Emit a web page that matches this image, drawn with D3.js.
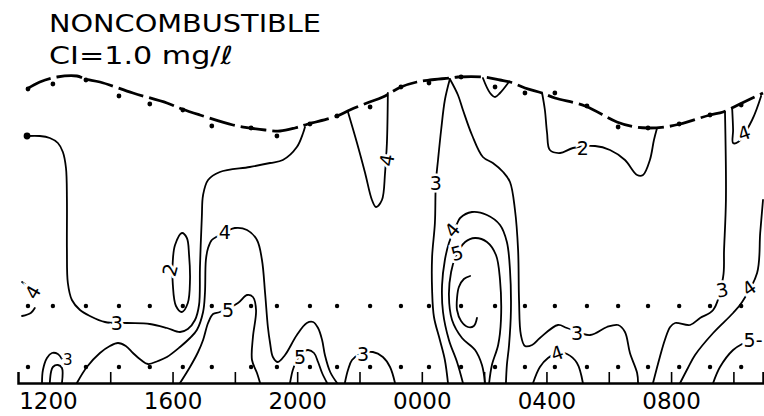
<!DOCTYPE html>
<html>
<head>
<meta charset="utf-8">
<script src="https://cdn.jsdelivr.net/npm/d3@7"></script>
<style>
body { margin: 0; background: #fff; }
svg { display: block; font-family: "DejaVu Sans", sans-serif; }
</style>
</head>
<body>
<svg id="chart" width="764" height="416"></svg>
<script>
// time is in clock hours (values past 24 are the next morning),
// depth is height above the bottom, in feet
const tickHours = [14, 16, 18, 20, 22, 24, 26, 28, 30, 32, 34];
const labelHours = [12, 16, 20, 24, 28, 32];
const labelText = ["1200", "1600", "2000", "0000", "0400", "0800"];

// sampling stations (one every hour)
const sampleHours = [11.36, 12.16, 13.22, 14.28, 15.27, 16.33, 17.26, 18.52, 19.35, 20.41, 21.28, 22.34,
    23.33, 24.23, 25.26, 26.35, 27.31, 28.27, 29.30, 30.30, 31.26, 32.26, 33.25, 34.25];
const surfaceDepth = [29.4, 29.9, 30.3, 28.7, 27.9, 27.3, 25.7, 25.5, 24.7, 25.9, 26.7, 27.6,
    29.6, 30.0, 30.6, 29.6, 29.0, 29.0, 27.7, 25.6, 25.5, 25.9, 26.8, 27.8];
const midDepth = 7.7;
const lowDepth = 1.6;
const lowHours = sampleHours.filter((h, i) => i !== 1);

// water surface
const surface = [[11.33, 29.4], [11.74, 30.1], [12.29, 30.6], [12.93, 30.7], [13.19, 30.4], [13.67, 30.1],
    [14.73, 29.0], [15.82, 28.0], [16.30, 27.4], [16.88, 26.8], [17.94, 25.8], [18.48, 25.5], [18.97, 25.3],
    [19.45, 25.2], [19.93, 25.5], [20.35, 25.9], [21.28, 26.7], [21.69, 27.3], [22.24, 28.0], [22.75, 28.6],
    [23.33, 29.6], [23.84, 30.1], [24.26, 30.3], [24.90, 30.5], [25.16, 30.6], [25.96, 30.6], [26.51, 30.3],
    [26.83, 30.1], [27.31, 29.5], [27.86, 29.0], [28.27, 28.5], [29.24, 27.7], [30.26, 26.1], [30.84, 25.6],
    [31.26, 25.5], [31.80, 25.6], [32.29, 25.9], [33.25, 26.8], [33.67, 27.1], [34.21, 27.9], [34.95, 29.0]];

// isolines of chlorine (mg/l)
const contour3West = [[11.33, 24.7], [11.74, 24.7], [12.06, 24.5], [12.32, 24.0], [12.48, 23.1], [12.58, 21.5],
    [12.61, 18.3], [12.61, 13.3], [12.64, 10.0], [12.77, 8.3], [13.03, 7.3], [13.35, 6.7], [13.83, 6.1],
    [14.54, 6.0], [15.27, 5.9], [15.82, 5.5], [16.24, 5.1], [16.49, 5.4], [16.72, 6.3], [16.85, 7.8],
    [16.88, 11.6], [16.94, 16.6], [16.98, 18.8], [17.14, 20.3], [17.52, 21.1], [18.48, 21.6], [19.13, 22.0],
    [19.54, 22.3], [19.99, 23.6], [20.19, 25.0], [20.25, 25.6]];
const contour2Loop = [[16.30, 15.0], [16.46, 14.5], [16.53, 12.8], [16.56, 10.3], [16.49, 8.0], [16.30, 7.1],
    [16.11, 7.7], [16.01, 9.8], [16.01, 12.3], [16.08, 13.8]];
const contour4West = [[12.93, 0], [13.25, 1.6], [13.67, 3.0], [13.99, 3.7], [14.25, 4.0], [14.50, 3.7],
    [14.73, 3.0], [14.99, 2.3], [15.21, 1.9], [15.53, 2.2], [15.82, 2.6], [16.24, 3.6], [16.56, 4.5],
    [16.78, 5.3], [16.98, 7.1], [17.04, 9.0], [17.07, 12.3], [17.14, 13.5], [17.26, 14.3], [17.46, 14.7],
    [18.00, 15.5], [18.39, 15.3], [18.71, 14.3], [18.87, 12.3], [18.97, 9.0], [19.06, 5.6], [19.13, 4.0],
    [19.22, 2.6], [19.38, 2.1], [19.61, 2.8], [19.99, 4.8], [20.31, 6.0], [20.51, 6.1], [20.67, 5.5],
    [20.80, 4.3], [20.89, 2.8], [21.06, 1.1], [21.28, 0]];
const contour5West = [[16.24, 0], [16.56, 1.6], [16.82, 3.1], [16.98, 4.3], [17.14, 6.0], [17.30, 6.9],
    [17.52, 7.1], [18.10, 8.0], [18.39, 8.8], [18.58, 8.6], [18.68, 7.3], [18.58, 4.6], [18.55, 2.3],
    [18.71, 1.0], [18.81, 0]];
const contour5Small = [[19.77, 0], [19.86, 1.3], [19.99, 2.3], [20.19, 3.1], [20.35, 3.3], [20.54, 3.0],
    [20.67, 2.1], [20.80, 1.0], [20.96, 0]];
const contour3Hump = [[21.53, 0], [21.63, 1.3], [21.76, 2.3], [22.02, 2.9], [22.43, 3.1], [22.75, 2.6],
    [22.98, 1.6], [23.14, 0]];
const contour4Notch = [[21.63, 27.1], [21.92, 24.0], [22.18, 21.0], [22.40, 18.3], [22.53, 17.6],
    [22.72, 18.3], [22.82, 21.0], [22.88, 24.0], [22.91, 29.0]];
const contour3Center = [[24.90, 30.4], [24.74, 28.3], [24.62, 25.3], [24.52, 22.3], [24.45, 20.0],
    [24.42, 16.0], [24.33, 12.6], [24.33, 9.3], [24.39, 6.6], [24.58, 4.3], [24.74, 2.3], [24.84, 0]];
const contour3East = [[24.90, 30.4], [25.16, 28.8], [25.32, 27.3], [25.61, 24.8], [25.96, 22.6], [26.28, 22.0],
    [26.61, 21.1], [26.83, 20.1], [26.99, 17.3], [27.09, 13.3], [27.12, 8.3], [27.18, 4.8], [27.31, 3.7],
    [27.54, 3.8], [27.79, 4.5], [28.37, 5.8], [28.66, 5.5], [29.40, 4.8], [29.94, 5.6], [30.30, 5.8],
    [30.52, 5.1], [30.68, 3.0], [30.91, 1.0], [30.94, 0]];
const contour4Center = [[25.32, 0], [25.13, 2.1], [24.87, 4.3], [24.68, 7.1], [24.65, 9.8], [24.74, 12.3],
    [24.87, 14.0], [25.10, 15.7], [25.23, 16.5], [25.61, 17.1], [26.09, 16.8], [26.51, 15.8], [26.73, 14.1],
    [26.83, 11.3], [26.86, 7.3], [26.80, 3.8], [26.73, 1.8], [26.70, 0]];
const contour5Center = [[26.03, 0], [25.93, 1.8], [25.71, 3.3], [25.29, 4.5], [24.97, 6.3], [24.87, 8.8],
    [24.94, 11.1], [25.07, 12.5], [25.39, 14.1], [25.71, 14.5], [26.09, 14.1], [26.38, 12.8], [26.51, 10.3],
    [26.54, 6.3], [26.45, 3.8], [26.25, 1.8], [26.16, 0]];
const contour6Core = [[25.55, 10.7], [25.35, 10.4], [25.19, 9.6], [25.13, 8.5], [25.13, 7.3], [25.26, 6.2],
    [25.48, 5.6], [25.67, 5.7], [25.77, 6.5]];
const contourCap = [[25.96, 30.5], [26.19, 29.0], [26.35, 28.6], [26.51, 29.0], [26.77, 30.0]];
const contour2East = [[27.86, 29.0], [27.95, 27.3], [28.02, 25.0], [28.11, 23.3], [28.44, 23.0], [28.85, 23.5],
    [29.56, 23.7], [30.04, 23.3], [30.52, 22.3], [30.91, 20.8], [31.10, 20.8], [31.32, 22.3], [31.45, 24.3],
    [31.55, 25.5]];
const contour4Hump = [[27.57, 0], [27.79, 1.6], [28.05, 2.5], [28.37, 3.0], [28.66, 2.9], [28.98, 2.0], [29.17, 0]];
const contour3Far = [[33.73, 27.1], [33.76, 18.3], [33.70, 13.3], [33.67, 10.6], [33.35, 7.3], [32.93, 6.5],
    [32.61, 5.8], [32.13, 6.0], [31.97, 5.6], [31.80, 4.3], [31.64, 2.6], [31.42, 0]];
const contour4Far = [[32.29, 0], [32.54, 1.5], [32.77, 2.8], [33.35, 5.0], [33.99, 7.0], [34.28, 8.1],
    [34.76, 11.0], [34.86, 15.0], [34.95, 18.3]];
const contour5Far = [[33.35, 0], [33.57, 1.6], [33.99, 3.3], [34.28, 3.9]];
const contour4Corner = [[33.96, 27.5], [33.99, 25.3], [33.99, 24.0], [34.15, 24.1], [34.60, 26.3], [34.89, 28.7]];
const contour3Foot = [[11.81, 0], [11.84, 1.3], [11.97, 2.5], [12.13, 3.0], [12.32, 2.9], [12.45, 2.4]];
const contour3FootIn = [[12.06, 0], [12.10, 1.1], [12.16, 1.6], [12.32, 1.8], [12.45, 1.5], [12.45, 0]];
const bracketMarks = [[[11.17, 10.1], [11.30, 9.8]], [[11.58, 7.5], [11.45, 7.0], [11.17, 6.7]]];

const openContours = [contour3West, contour4West, contour5West, contour5Small, contour3Hump, contour4Notch,
    contour3Center, contour3East, contour4Center, contour5Center, contour6Core, contourCap, contour2East,
    contour4Hump, contour3Far, contour4Far, contour5Far, contour4Corner, contour3Foot, contour3FootIn];

// contour labels: value, position [hour, depth], tilt
const contourLabels = [
    ["3", [14.21, 6.0], 0], ["2", [15.92, 11.3], -75], ["4", [17.68, 15.1], 0], ["5", [17.78, 7.3], 0],
    ["5", [20.09, 2.6], 0], ["3", [22.11, 2.9], 0], ["4", [22.88, 22.3], -80], ["3", [24.45, 20.0], 0],
    ["4", [24.97, 15.3], -50], ["5", [25.13, 13.0], -15], ["3", [28.98, 5.0], 0], ["2", [29.17, 23.5], 0],
    ["4", [28.34, 3.0], -20], ["3", [33.64, 9.3], -10], ["4", [34.50, 9.5], -35], ["5-", [34.63, 4.3], 0],
    ["4", [34.34, 25.0], -20], ["3", [12.64, 2.3], 0], ["4", [11.52, 9.1], -60]
];

const svg = d3.select("#chart");

const x = d3.scaleLinear().domain([11.04, 34.95]).range([18, 763]);
const y = d3.scaleLinear().domain([0, 34]).range([383, 43]);

const line = d3.line()
    .x(d => x(d[0]))
    .y(d => y(d[1]))
    .curve(d3.curveCatmullRom.alpha(0.5));

// Title
svg.append("text")
    .attr("x", 49).attr("y", 32)
    .attr("font-size", 25)
    .attr("textLength", 272).attr("lengthAdjust", "spacingAndGlyphs")
    .text("NONCOMBUSTIBLE");
svg.append("text")
    .attr("x", 49).attr("y", 64)
    .attr("font-size", 25)
    .attr("textLength", 184).attr("lengthAdjust", "spacingAndGlyphs")
    .text("CI=1.0 mg/\u2113");

// Contours
const lines = svg.append("g")
    .attr("fill", "none")
    .attr("stroke", "#000")
    .attr("stroke-width", 1.8)
    .attr("stroke-linecap", "round");

lines.selectAll(".contour")
    .data(openContours)
    .enter().append("path")
    .attr("class", "contour")
    .attr("d", line);

lines.append("path")
    .datum(contour2Loop)
    .attr("d", d3.line().x(d => x(d[0])).y(d => y(d[1])).curve(d3.curveCatmullRomClosed.alpha(0.5)));

lines.selectAll(".bracket")
    .data(bracketMarks)
    .enter().append("path")
    .attr("class", "bracket")
    .attr("d", line);

lines.append("circle")
    .attr("cx", x(contour3West[0][0])).attr("cy", y(contour3West[0][1]))
    .attr("r", 2.5).attr("fill", "#000");

// Water surface (dash-dot line)
svg.append("path")
    .datum(surface)
    .attr("d", line)
    .attr("fill", "none")
    .attr("stroke", "#000")
    .attr("stroke-width", 2.8)
    .attr("stroke-dasharray", "26,6");

// Sampling points
const dots = svg.append("g").attr("fill", "#000");
dots.selectAll(".surf")
    .data(sampleHours)
    .enter().append("circle")
    .attr("class", "surf")
    .attr("cx", d => x(d))
    .attr("cy", (d, i) => y(surfaceDepth[i]))
    .attr("r", 2.4);
dots.selectAll(".mid")
    .data(sampleHours)
    .enter().append("circle")
    .attr("class", "mid")
    .attr("cx", d => x(d))
    .attr("cy", y(midDepth))
    .attr("r", 2.2);
dots.selectAll(".low")
    .data(lowHours)
    .enter().append("circle")
    .attr("class", "low")
    .attr("cx", d => x(d))
    .attr("cy", y(lowDepth))
    .attr("r", 2.2);

// Contour labels, with a white halo that breaks the line
svg.append("g")
    .attr("font-size", 19)
    .attr("text-anchor", "middle")
    .selectAll("text")
    .data(contourLabels)
    .enter().append("text")
    .attr("transform", d => `translate(${x(d[1][0])},${y(d[1][1])}) rotate(${d[2]})`)
    .attr("dy", "0.36em")
    .attr("stroke", "#fff")
    .attr("stroke-width", 5)
    .attr("paint-order", "stroke")
    .attr("fill", "#000")
    .attr("font-size", (d, i) => i === 17 ? 15 : 19)
    .text(d => d[0]);

// Time axis: ticks point up into the plot
const axisG = svg.append("g")
    .attr("transform", `translate(0,${y(0)})`)
    .call(d3.axisBottom(x).tickValues(tickHours).tickSizeInner(-11).tickSizeOuter(-11).tickFormat(""));
axisG.select(".domain").attr("stroke-width", 2.5);
axisG.selectAll(".tick line").attr("stroke-width", 1.6);

const labelG = svg.append("g")
    .attr("transform", `translate(0,${y(0)})`)
    .call(d3.axisBottom(x).tickValues(labelHours).tickSize(0).tickPadding(10).tickFormat((d, i) => labelText[i]));
labelG.select(".domain").remove();
labelG.selectAll("text")
    .attr("font-family", "\"DejaVu Sans\", sans-serif")
    .attr("font-size", 23)
    .attr("fill", "#000");
</script>
</body>
</html>
